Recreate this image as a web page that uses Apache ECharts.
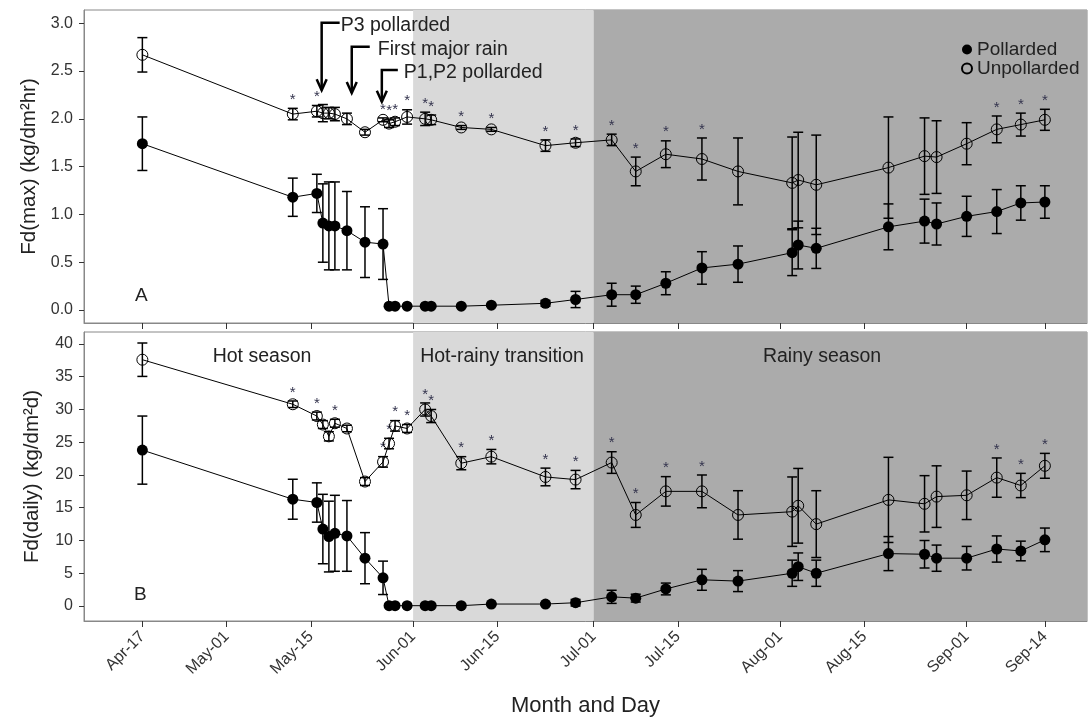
<!DOCTYPE html>
<html>
<head>
<meta charset="utf-8">
<script src="https://cdn.jsdelivr.net/npm/echarts@6/dist/echarts.min.js"></script>
<style>
html, body { margin: 0; padding: 0; background: #fff; }
#container { width: 1090px; height: 721px; }
</style>
</head>
<body>
<div id="container"></div>
<script>
// days counted from Apr-17
var days = [0, 25, 29, 30, 31, 32, 34, 37, 40, 41, 42, 44, 47, 48, 53, 58, 67, 72, 78, 82, 87, 93, 99, 108, 109, 112, 124, 130, 132, 137, 142, 146, 150];

// Fd(max)
var maxUnp    = [2.67, 2.05, 2.08, 2.06, 2.06, 2.05, 2.00, 1.86, 1.99, 1.95, 1.97, 2.02, 2.00, 1.99, 1.91, 1.89, 1.72, 1.75, 1.78, 1.45, 1.63, 1.58, 1.45, 1.33, 1.36, 1.31, 1.49, 1.61, 1.60, 1.74, 1.89, 1.94, 1.99];
var maxUnpErr = [0.18, 0.06, 0.06, 0.09, 0.06, 0.07, 0.06, 0.03, 0.02, 0.04, 0.04, 0.075, 0.07, 0.05, 0.02, 0.02, 0.06, 0.04, 0.06, 0.15, 0.14, 0.22, 0.35, 0.48, 0.50, 0.52, 0.53, 0.40, 0.38, 0.22, 0.14, 0.12, 0.11];
var maxPol    = [1.74, 1.18, 1.22, 0.91, 0.88, 0.88, 0.83, 0.71, 0.69, 0.04, 0.04, 0.04, 0.04, 0.04, 0.04, 0.05, 0.07, 0.11, 0.16, 0.16, 0.28, 0.44, 0.48, 0.60, 0.68, 0.645, 0.87, 0.93, 0.90, 0.98, 1.03, 1.12, 1.13];
var maxPolErr = [0.28, 0.20, 0.20, 0.41, 0.46, 0.46, 0.41, 0.37, 0.37, 0.01, 0.01, 0.01, 0.01, 0.01, 0.01, 0.01, 0.03, 0.085, 0.12, 0.09, 0.12, 0.17, 0.19, 0.24, 0.25, 0.21, 0.24, 0.23, 0.22, 0.21, 0.23, 0.18, 0.17];
var maxStarDays = [25, 29, 40, 41, 42, 44, 47, 48, 53, 58, 67, 72, 78, 82, 87, 93, 142, 146, 150];

// Fd(daily)
var dailyUnp    = [37.6, 30.8, 29.0, 27.7, 25.9, 27.9, 27.1, 19.0, 22.0, 24.8, 27.5, 27.1, 30.0, 29.0, 21.8, 22.8, 19.7, 19.3, 21.9, 13.9, 17.5, 17.5, 13.9, 14.4, 15.3, 12.5, 16.2, 15.6, 16.7, 16.9, 19.6, 18.4, 21.4];
var dailyUnpErr = [2.55, 0.5, 0.6, 0.6, 0.7, 0.6, 0.5, 0.6, 0.8, 0.8, 0.8, 0.6, 1.0, 1.0, 1.0, 1.1, 1.35, 1.4, 1.65, 1.9, 2.25, 2.5, 3.7, 5.3, 5.7, 5.1, 6.5, 4.3, 4.7, 3.7, 3.0, 1.85, 1.9];
var dailyPol    = [23.8, 16.3, 15.8, 11.75, 10.6, 11.1, 10.7, 7.3, 4.3, 0.05, 0.05, 0.05, 0.05, 0.05, 0.05, 0.3, 0.3, 0.5, 1.4, 1.2, 2.6, 4.0, 3.8, 5.0, 6.0, 5.0, 8.0, 7.9, 7.3, 7.3, 8.7, 8.4, 10.1];
var dailyPolErr = [5.2, 3.05, 3.0, 5.3, 5.4, 5.8, 5.4, 3.9, 2.55, 0.05, 0.05, 0.05, 0.05, 0.05, 0.05, 0.1, 0.2, 0.5, 1.0, 0.6, 0.9, 1.6, 1.6, 2.0, 2.1, 2.0, 2.6, 2.1, 2.0, 1.8, 2.0, 1.5, 1.8];
var dailyStarDays = [25, 29, 32, 40, 41, 42, 44, 47, 48, 53, 58, 67, 72, 78, 82, 87, 93, 142, 146, 150];

// x ticks
var tickDays   = [0, 14, 28, 45, 59, 75, 89, 106, 120, 137, 150];
var tickLabels = ['Apr-17', 'May-01', 'May-15', 'Jun-01', 'Jun-15', 'Jul-01', 'Jul-15', 'Aug-01', 'Aug-15', 'Sep-01', 'Sep-14'];
var maxTicks   = [0, 0.5, 1, 1.5, 2, 2.5, 3];
var dailyTicks = [0, 5, 10, 15, 20, 25, 30, 35, 40];

// seasons (days)
var hotRainyStart = 45, rainyStart = 75;

// annotations: day, y of the elbow, y of the arrow tip
var annoLabels = ['P3 pollarded', 'First major rain', 'P1,P2 pollarded'];
var annoData   = [[29.8, 3.006, 2.30], [34.8, 2.755, 2.27], [39.8, 2.511, 2.18]];

var FONT = '"Liberation Sans", Arial, sans-serif';

function pts(vals) {
  return days.map(function (d, i) { return [d, vals[i]]; });
}
function bars(vals, errs, stars) {
  return days.map(function (d, i) {
    return [d, vals[i] - errs[i], vals[i] + errs[i], stars && stars.indexOf(d) >= 0 ? 1 : 0];
  });
}

function renderErr(params, api) {
  var lo = api.coord([api.value(0), api.value(1)]);
  var hi = api.coord([api.value(0), api.value(2)]);
  var w = 5;
  var st = { stroke: '#000', lineWidth: 1.5 };
  var kids = [
    { type: 'line', shape: { x1: lo[0], y1: lo[1], x2: hi[0], y2: hi[1] }, style: st },
    { type: 'line', shape: { x1: lo[0] - w, y1: lo[1], x2: lo[0] + w, y2: lo[1] }, style: st },
    { type: 'line', shape: { x1: hi[0] - w, y1: hi[1], x2: hi[0] + w, y2: hi[1] }, style: st }
  ];
  if (api.value(3)) {
    kids.push({ type: 'text', x: hi[0], y: hi[1] - 1,
      style: { text: '*', fontSize: 15, fontFamily: FONT, fill: '#33334d', align: 'center', verticalAlign: 'bottom' } });
  }
  return { type: 'group', children: kids };
}

function renderAnno(params, api) {
  var i = params.dataIndex;
  var top = api.coord([api.value(0), api.value(1)]);
  var tip = api.coord([api.value(0), api.value(2)]);
  var arm = [18, 18, 16][i];
  var gap = [19, 26, 22][i];
  var st = { stroke: '#000', lineWidth: 2.5, fill: null };
  return { type: 'group', children: [
    { type: 'polyline', shape: { points: [[top[0] + arm, top[1]], [top[0], top[1]], [tip[0], tip[1]]] }, style: st },
    { type: 'polyline', shape: { points: [[tip[0] - 5, tip[1] - 11], [tip[0], tip[1]], [tip[0] + 5, tip[1] - 11]] }, style: st },
    { type: 'text', x: top[0] + gap, y: top[1] + 3,
      style: { text: annoLabels[i], fontSize: 19.5, fontFamily: FONT, fill: '#222', verticalAlign: 'middle' } }
  ] };
}

var shade = {
  silent: true,
  data: [
    [{ xAxis: hotRainyStart, itemStyle: { color: '#d9d9d9' } }, { xAxis: rainyStart }],
    [{ xAxis: rainyStart, itemStyle: { color: '#ababab' } }, { xAxis: 157 }]
  ]
};

function xAxisOf(grid, labels) {
  return {
    type: 'value', gridIndex: grid, min: -9.7, max: 157,
    axisLine: { show: true, onZero: false, lineStyle: { color: '#888' } },
    axisTick: { show: true, customValues: tickDays, length: 6, lineStyle: { color: '#333' } },
    axisLabel: {
      show: labels, customValues: tickDays, rotate: 45, fontSize: 16, color: '#333', fontFamily: FONT, margin: 13,
      formatter: function (v) { var k = tickDays.indexOf(v); return k >= 0 ? tickLabels[k] : ''; }
    },
    splitLine: { show: false },
    name: labels ? 'Month and Day' : '', nameLocation: 'middle', nameGap: 74,
    nameTextStyle: { fontSize: 22, color: '#222', fontFamily: FONT }
  };
}

function yAxisOf(grid, min, max, ticks, name, dec) {
  return {
    type: 'value', gridIndex: grid, min: min, max: max,
    axisLine: { show: true, onZero: false, lineStyle: { color: '#888' } },
    axisTick: { show: true, customValues: ticks, length: 5, lineStyle: { color: '#333' } },
    axisLabel: { customValues: ticks, fontSize: 16, color: '#333', fontFamily: FONT, margin: 11,
      formatter: function (v) { return v.toFixed(dec); } },
    splitLine: { show: false },
    name: name, nameLocation: 'middle', nameGap: 41,
    nameTextStyle: { fontSize: 20.5, color: '#222', fontFamily: FONT }
  };
}

var filled = { color: '#000' };
var hollow = { color: 'rgba(0,0,0,0)', borderColor: '#000', borderWidth: 1 };

var chart = echarts.init(document.getElementById('container'));
chart.setOption({
  animation: false,
  grid: [
    { left: 84, right: 3, top: 10, height: 313, show: true, borderColor: '#888', borderWidth: 1 },
    { left: 84, right: 3, top: 332, height: 289, show: true, borderColor: '#888', borderWidth: 1 }
  ],
  xAxis: [xAxisOf(0, false), xAxisOf(1, true)],
  yAxis: [
    yAxisOf(0, -0.136, 3.139, maxTicks, 'Fd(max) (kg/dm²hr)', 1),
    yAxisOf(1, -2.29, 41.83, dailyTicks, 'Fd(daily) (kg/dm²d)', 0)
  ],
  legend: {
    left: 956, top: 35, orient: 'vertical', itemGap: 0, itemWidth: 10, itemHeight: 10, icon: 'circle',
    textStyle: { fontSize: 19, lineHeight: 16, color: '#222', fontFamily: FONT },
    data: ['Pollarded', 'Unpollarded']
  },
  graphic: [
    { type: 'text', z: 100, left: 135, top: 286, style: { text: 'A', fontSize: 19, fontFamily: FONT, fill: '#222' } },
    { type: 'text', z: 100, left: 134, top: 585, style: { text: 'B', fontSize: 19, fontFamily: FONT, fill: '#222' } },
    { type: 'text', z: 100, x: 262, y: 357, style: { text: 'Hot season', fontSize: 19.5, fontFamily: FONT, fill: '#222', align: 'center', verticalAlign: 'middle' } },
    { type: 'text', z: 100, x: 502, y: 357, style: { text: 'Hot-rainy transition', fontSize: 19.5, fontFamily: FONT, fill: '#222', align: 'center', verticalAlign: 'middle' } },
    { type: 'text', z: 100, x: 822, y: 357, style: { text: 'Rainy season', fontSize: 19.5, fontFamily: FONT, fill: '#222', align: 'center', verticalAlign: 'middle' } }
  ],
  series: [
    { type: 'line', name: 'Pollarded', xAxisIndex: 0, yAxisIndex: 0, data: pts(maxPol), symbol: 'circle', symbolSize: 11,
      itemStyle: filled, lineStyle: { color: '#000', width: 1 }, markArea: shade, z: 3 },
    { type: 'line', name: 'Unpollarded', xAxisIndex: 0, yAxisIndex: 0, data: pts(maxUnp), symbol: 'circle', symbolSize: 11,
      itemStyle: hollow, lineStyle: { color: '#000', width: 1 }, z: 3 },
    { type: 'custom', name: 'errMaxPol', xAxisIndex: 0, yAxisIndex: 0, renderItem: renderErr, data: bars(maxPol, maxPolErr), z: 2 },
    { type: 'custom', name: 'errMaxUnp', xAxisIndex: 0, yAxisIndex: 0, renderItem: renderErr, data: bars(maxUnp, maxUnpErr, maxStarDays), z: 2 },
    { type: 'custom', name: 'anno', xAxisIndex: 0, yAxisIndex: 0, renderItem: renderAnno, data: annoData, silent: true, z: 4 },

    { type: 'line', name: 'Pollarded', xAxisIndex: 1, yAxisIndex: 1, data: pts(dailyPol), symbol: 'circle', symbolSize: 11,
      itemStyle: filled, lineStyle: { color: '#000', width: 1 }, markArea: shade, z: 3 },
    { type: 'line', name: 'Unpollarded', xAxisIndex: 1, yAxisIndex: 1, data: pts(dailyUnp), symbol: 'circle', symbolSize: 11,
      itemStyle: hollow, lineStyle: { color: '#000', width: 1 }, z: 3 },
    { type: 'custom', name: 'errDailyPol', xAxisIndex: 1, yAxisIndex: 1, renderItem: renderErr, data: bars(dailyPol, dailyPolErr), z: 2 },
    { type: 'custom', name: 'errDailyUnp', xAxisIndex: 1, yAxisIndex: 1, renderItem: renderErr, data: bars(dailyUnp, dailyUnpErr, dailyStarDays), z: 2 }
  ]
});
</script>
</body>
</html>
